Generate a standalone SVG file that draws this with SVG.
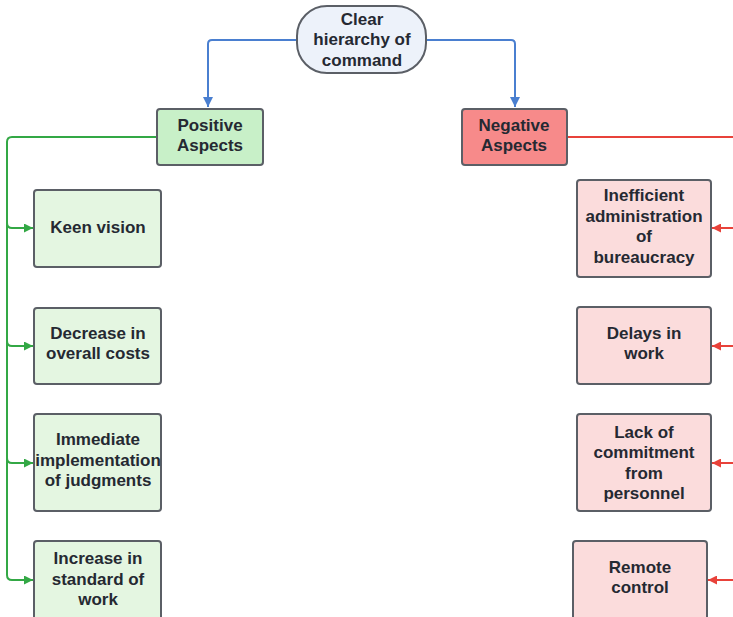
<svg xmlns="http://www.w3.org/2000/svg" width="733" height="617" viewBox="0 0 733 617">
  <style>
    .box { stroke: #5b5f66; stroke-width: 2; }
    .pos { fill: #c8f0c8; }
    .neg { fill: #f78a8a; }
    .gitem { fill: #e4f6e1; }
    .ritem { fill: #fbdcdc; }
    .root { fill: #edf2fa; }
    text { font-family: "Liberation Sans", Arial, sans-serif; font-weight: bold; font-size: 17px; fill: #252932; text-anchor: middle; }
    .blue { stroke: #4a7fd0; stroke-width: 2; fill: none; }
    .green { stroke: #33a845; stroke-width: 2; fill: none; }
    .red { stroke: #e8423a; stroke-width: 2; fill: none; }
  </style>
  <defs>
    <marker id="arrBlue" viewBox="0 0 10 10" refX="10" refY="5" markerWidth="6" markerHeight="5" orient="auto" markerUnits="strokeWidth">
      <path d="M0,0 L10,5 L0,10 z" fill="#4a7fd0"/>
    </marker>
    <marker id="arrGreen" viewBox="0 0 10 10" refX="10" refY="5" markerWidth="6" markerHeight="4.5" orient="auto" markerUnits="strokeWidth">
      <path d="M0,0 L10,5 L0,10 z" fill="#33a845"/>
    </marker>
    <marker id="arrRed" viewBox="0 0 10 10" refX="10" refY="5" markerWidth="6" markerHeight="4.5" orient="auto" markerUnits="strokeWidth">
      <path d="M0,0 L10,5 L0,10 z" fill="#e8423a"/>
    </marker>
  </defs>

  <g id="connectors">
    <path class="blue" d="M297,40 H212 Q208,40 208,44 V107" marker-end="url(#arrBlue)"/>
    <path class="blue" d="M426,40 H511 Q515,40 515,44 V107" marker-end="url(#arrBlue)"/>
    <path class="green" d="M156,137 H12 Q7,137 7,142 V223 Q7,228 12,228 H33" marker-end="url(#arrGreen)"/>
    <path class="green" d="M7,223 V341 Q7,346 12,346 H33" marker-end="url(#arrGreen)"/>
    <path class="green" d="M7,341 V458 Q7,463 12,463 H33" marker-end="url(#arrGreen)"/>
    <path class="green" d="M7,458 V575 Q7,580 12,580 H33" marker-end="url(#arrGreen)"/>
    <path class="red" d="M567,137 H733"/>
    <path class="red" d="M733,228 H712" marker-end="url(#arrRed)"/>
    <path class="red" d="M733,346 H712" marker-end="url(#arrRed)"/>
    <path class="red" d="M733,463 H712" marker-end="url(#arrRed)"/>
    <path class="red" d="M733,580 H708" marker-end="url(#arrRed)"/>
  </g>

  <g id="root">
    <rect class="box root" x="297" y="6" width="129" height="67" rx="30" ry="30"/>
    <text x="362" y="25">Clear</text>
    <text x="362" y="45">hierarchy of</text>
    <text x="362" y="66">command</text>
  </g>

  <g id="positive">
    <rect class="box pos" x="157" y="109" width="106" height="56" rx="3"/>
    <text x="210" y="131">Positive</text>
    <text x="210" y="151">Aspects</text>
  </g>

  <g id="negative">
    <rect class="box neg" x="462" y="109" width="105" height="56" rx="3"/>
    <text x="514" y="131">Negative</text>
    <text x="514" y="151">Aspects</text>
  </g>

  <g id="keen-vision">
    <rect class="box gitem" x="34" y="190" width="127" height="77" rx="3"/>
    <text x="98" y="233">Keen vision</text>
  </g>

  <g id="decrease-costs">
    <rect class="box gitem" x="34" y="308" width="127" height="76" rx="3"/>
    <text x="98" y="339">Decrease in</text>
    <text x="98" y="359">overall costs</text>
  </g>

  <g id="immediate-implementation">
    <rect class="box gitem" x="34" y="414" width="127" height="97" rx="3"/>
    <text x="98" y="445">Immediate</text>
    <text x="98" y="466">implementation</text>
    <text x="98" y="486">of judgments</text>
  </g>

  <g id="increase-standard">
    <rect class="box gitem" x="34" y="541" width="127" height="80" rx="3"/>
    <text x="98" y="564">Increase in</text>
    <text x="98" y="585">standard of</text>
    <text x="98" y="605">work</text>
  </g>

  <g id="inefficient-administration">
    <rect class="box ritem" x="577" y="180" width="134" height="97" rx="3"/>
    <text x="644" y="201">Inefficient</text>
    <text x="644" y="222">administration</text>
    <text x="644" y="242">of</text>
    <text x="644" y="263">bureaucracy</text>
  </g>

  <g id="delays">
    <rect class="box ritem" x="577" y="307" width="134" height="77" rx="3"/>
    <text x="644" y="339">Delays in</text>
    <text x="644" y="359">work</text>
  </g>

  <g id="lack-commitment">
    <rect class="box ritem" x="577" y="414" width="134" height="97" rx="3"/>
    <text x="644" y="438">Lack of</text>
    <text x="644" y="458">commitment</text>
    <text x="644" y="479">from</text>
    <text x="644" y="499">personnel</text>
  </g>

  <g id="remote-control">
    <rect class="box ritem" x="573" y="541" width="134" height="80" rx="3"/>
    <text x="640" y="573">Remote</text>
    <text x="640" y="593">control</text>
  </g>
</svg>
